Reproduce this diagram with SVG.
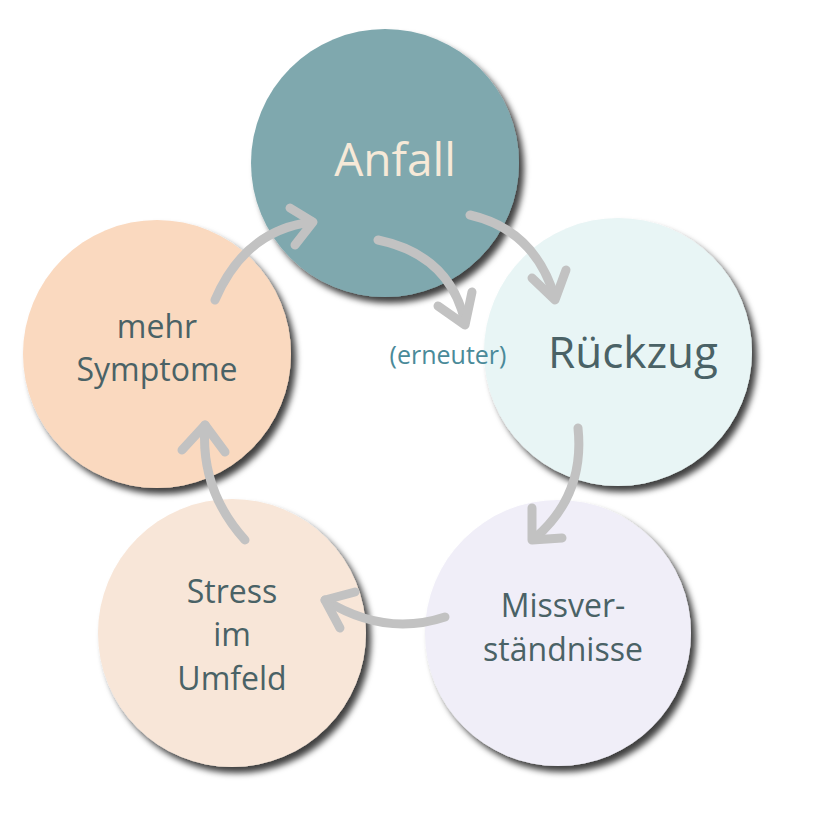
<svg xmlns="http://www.w3.org/2000/svg" width="814" height="829" viewBox="0 0 814 829">
<defs>
<filter id="sh" x="-20%" y="-20%" width="140%" height="140%"><feDropShadow dx="5" dy="6" stdDeviation="3" flood-color="#000" flood-opacity="0.75"/></filter>
</defs>
<style>
.t{font-family:"Open Sans","DejaVu Sans",sans-serif;fill:#4a6266;text-anchor:middle}
.a{fill:none;stroke:#c2c2c2;stroke-width:9;stroke-linecap:round;stroke-linejoin:round}
</style>
<rect width="814" height="829" fill="#fff"/>
<g id="anfall"><circle cx="385" cy="163" r="134" fill="#7fa8ae" filter="url(#sh)"/><text class="t" x="395" y="176" font-size="46" style="fill:#f6e9d8">Anfall</text></g>
<g id="rueckzug"><circle cx="618" cy="352" r="134" fill="#e8f5f5" filter="url(#sh)"/><text class="t" x="633" y="368" font-size="44">Rückzug</text><text class="t" x="448" y="364" font-size="25" style="fill:#4a8a99">(erneuter)</text></g>
<g id="missverstaendnisse"><circle cx="558" cy="633" r="133" fill="#f0eef8" filter="url(#sh)"/><text class="t" x="563" y="617" font-size="32">Missver-</text><text class="t" x="563" y="661" font-size="32">ständnisse</text></g>
<g id="stress"><circle cx="232" cy="633" r="134" fill="#f8e6d8" filter="url(#sh)"/><text class="t" x="232" y="603" font-size="32">Stress</text><text class="t" x="232" y="646" font-size="32">im</text><text class="t" x="232" y="690" font-size="32">Umfeld</text></g>
<g id="symptome"><circle cx="157" cy="354" r="134" fill="#fad9bf" filter="url(#sh)"/><text class="t" x="157" y="338" font-size="32">mehr</text><text class="t" x="157" y="381" font-size="32">Symptome</text></g>
<g id="connectors">
<path class="a" d="M470 215 Q535 230 555 298"/><path class="a" d="M532 278 L555 300 L566 270"/>
<path class="a" d="M378 240 Q450 255 465 322"/><path class="a" d="M438 306 L465 325 L472 292"/>
<path class="a" d="M578 428 Q585 495 535 538"/><path class="a" d="M532 508 L532 540 L562 538"/>
<path class="a" d="M445 617 Q385 637 325 600"/><path class="a" d="M355 592 L325 600 L340 628"/>
<path class="a" d="M245 540 Q200 490 205 425"/><path class="a" d="M182 450 L205 425 L225 452"/>
<path class="a" d="M215 300 Q245 230 312 222"/><path class="a" d="M290 208 L313 222 L295 245"/>
</g>
</svg>
